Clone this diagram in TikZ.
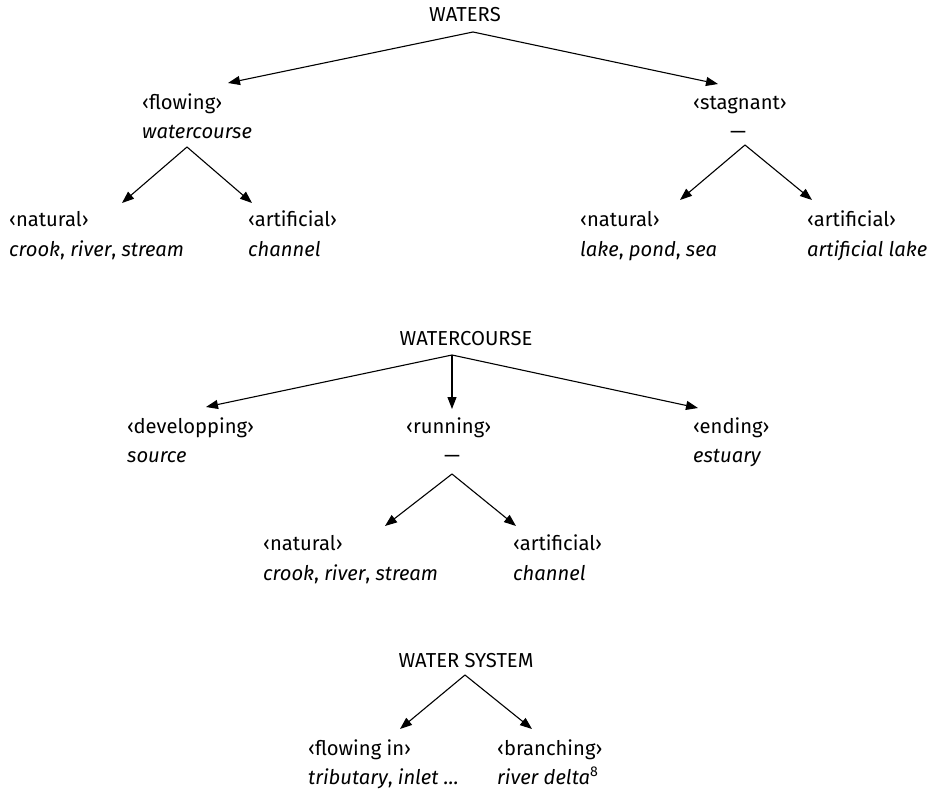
\documentclass[tikz,border=0pt]{standalone}
\usepackage{fontspec}
\setmainfont{Fira Sans}
\usetikzlibrary{arrows.meta}
\begin{document}
\begin{tikzpicture}[x=1pt,y=-1pt,
  lbl/.style={inner sep=0pt, anchor=base west, font=\fontsize{20.2}{22}\selectfont},
  ttl/.style={inner sep=0pt, anchor=base, font=\fontsize{20.2}{22}\selectfont},
  wrd/.style={lbl, font=\fontsize{20.2}{22}\selectfont\itshape},
  arr/.style={line width=1.1pt, -{Triangle[length=12pt,width=9pt]}}]
\useasboundingbox (0,0) rectangle (930,789);
% ---------- Tree 1 ----------
\node[ttl] (waters) at (465,22) {WATERS};
\coordinate (wa) at (473,32);
\node[lbl] (flow) at (142,110) {‹flowing›};
\node[wrd] (flowW) at (142,139) {watercourse};
\coordinate (fa) at (187,147);
\node[lbl] (nat1) at (9,227) {‹natural›};
\node[wrd] (nat1W) at (9,257) {crook\textup{,} river\textup{,} stream};
\node[lbl] (art1) at (248,227) {‹artificial›};
\node[wrd] (art1W) at (248,257) {channel};
\node[lbl] (stag) at (693,110) {‹stagnant›};
\node[ttl] (stagW) at (738,139) {—};
\coordinate (sa) at (745,145);
\node[lbl] (nat2) at (580,227) {‹natural›};
\node[wrd] (nat2W) at (580,257) {lake\textup{,} pond\textup{,} sea};
\node[lbl] (art2) at (807,227) {‹artificial›};
\node[wrd] (art2W) at (807,257) {artificial lake};
\coordinate (t1) at (228,83);
\coordinate (t2) at (718,84);
\coordinate (t3) at (122,203);
\coordinate (t4) at (252,203);
\coordinate (t5) at (680,200);
\coordinate (t6) at (812,200);
\draw[arr] (wa) -- (t1);
\draw[arr] (wa) -- (t2);
\draw[arr] (fa) -- (t3);
\draw[arr] (fa) -- (t4);
\draw[arr] (sa) -- (t5);
\draw[arr] (sa) -- (t6);
% ---------- Tree 2 ----------
\node[ttl] (wc) at (466,345) {WATERCOURSE};
\coordinate (wca) at (452,355);
\node[lbl] (dev) at (127,433) {‹developping›};
\node[wrd] (devW) at (127,462) {source};
\node[lbl] (run) at (406,433) {‹running›};
\node[ttl] (runW) at (452,462) {—};
\coordinate (ra) at (452,474);
\node[lbl] (end) at (693,433) {‹ending›};
\node[wrd] (endW) at (693,462) {estuary};
\node[lbl] (nat3) at (263,550) {‹natural›};
\node[wrd] (nat3W) at (263,580) {crook\textup{,} river\textup{,} stream};
\node[lbl] (art3) at (513,550) {‹artificial›};
\node[wrd] (art3W) at (513,580) {channel};
\coordinate (u1) at (206,407);
\coordinate (u2) at (452,409);
\coordinate (u3) at (698,408);
\coordinate (u4) at (385,526);
\coordinate (u5) at (516,526);
\draw[arr] (wca) -- (u1);
\draw[arr] (wca) -- (u2);
\draw[arr] (wca) -- (u3);
\draw[arr] (ra) -- (u4);
\draw[arr] (ra) -- (u5);
% ---------- Tree 3 ----------
\node[ttl] (ws) at (466,667) {WATER SYSTEM};
\coordinate (wsa) at (465,675);
\node[lbl] (fin) at (308,755) {‹flowing in›};
\node[wrd] (finW) at (308,784) {tributary\textup{,} inlet …};
\node[lbl] (br) at (497,755) {‹branching›};
\node[wrd] (brW) at (497,784) {river delta\textsuperscript{\upshape 8}};
\coordinate (v1) at (400,729);
\coordinate (v2) at (532,729);
\draw[arr] (wsa) -- (v1);
\draw[arr] (wsa) -- (v2);
\end{tikzpicture}
\end{document}
